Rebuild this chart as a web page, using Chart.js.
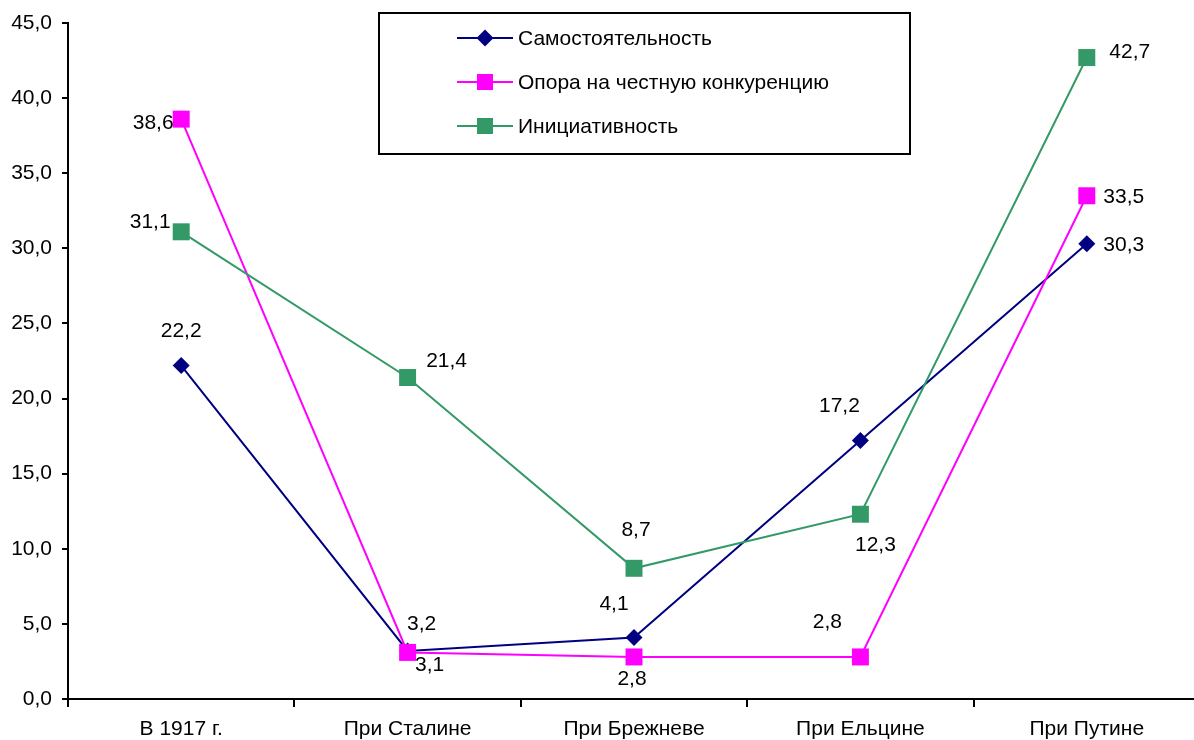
<!DOCTYPE html>
<html>
<head>
<meta charset="utf-8">
<script src="https://cdn.jsdelivr.net/npm/chart.js@4"></script>
<style>
  html, body { margin: 0; padding: 0; background: #fff; overflow: hidden; width: 1194px; height: 740px; }
  canvas { display: block; }
</style>
</head>
<body>
<canvas id="c" width="1212" height="740" style="width:1212px;height:740px"></canvas>
<script>
// данные с графика
const periods = ['В 1917 г.', 'При Сталине', 'При Брежневе', 'При Ельцине', 'При Путине'];
const samost = [22.2, 3.2, 4.1, 17.2, 30.3];
const konkur = [38.6, 3.1, 2.8, 2.8, 33.5];
const iniciat = [31.1, 21.4, 8.7, 12.3, 42.7];
const yTicks = [0, 5, 10, 15, 20, 25, 30, 35, 40, 45];

// смещения подписей (dx, dy) относительно точки
const offSamost = [[0, -34], [14, -27], [-20, -33], [-21, -34], [37, 1]];
const offKonkur = [[-28, 4], [22, 13], [-2, 22], [-33, -35], [37, 1]];
const offIniciat = [[-31, -10], [39, -16], [2, -38], [15, 31], [43, -5]];

const fmt = v => v.toFixed(1).replace('.', ',');
const FAMILY = '"Liberation Sans", Arial, sans-serif';
const FONT = '21px ' + FAMILY;

const series = [
  { label: 'Самостоятельность', data: samost, color: '#000080', style: 'rectRot', r: 8.5, off: offSamost, order: 3 },
  { label: 'Опора на честную конкуренцию', data: konkur, color: '#FF00FF', style: 'rect', r: 12, off: offKonkur, order: 2 },
  { label: 'Инициативность', data: iniciat, color: '#339966', style: 'rect', r: 12, off: offIniciat, order: 1 }
];

const valueLabels = {
  id: 'valueLabels',
  afterDatasetsDraw(chart) {
    const ctx = chart.ctx;
    ctx.save();
    ctx.font = FONT;
    ctx.fillStyle = '#000';
    ctx.textAlign = 'center';
    ctx.textBaseline = 'middle';
    series.forEach((s, i) => {
      const meta = chart.getDatasetMeta(i);
      meta.data.forEach((pt, j) => {
        const o = s.off[j];
        ctx.fillText(fmt(s.data[j]), pt.x + o[0], pt.y + o[1]);
      });
    });
    ctx.restore();
  }
};

const boxLegend = {
  id: 'boxLegend',
  afterDraw(chart) {
    const ctx = chart.ctx;
    ctx.save();
    ctx.strokeStyle = '#000';
    ctx.lineWidth = 2;
    ctx.strokeRect(379, 13, 531, 141);
    ctx.font = FONT;
    ctx.textBaseline = 'middle';
    ctx.textAlign = 'left';
    series.forEach((s, i) => {
      const y = 38 + i * 44;
      ctx.strokeStyle = s.color;
      ctx.lineWidth = 2;
      ctx.beginPath();
      ctx.moveTo(457, y);
      ctx.lineTo(513, y);
      ctx.stroke();
      ctx.fillStyle = s.color;
      if (s.style === 'rectRot') {
        ctx.beginPath();
        ctx.moveTo(485, y - 8.5); ctx.lineTo(493.5, y); ctx.lineTo(485, y + 8.5); ctx.lineTo(476.5, y);
        ctx.closePath(); ctx.fill();
      } else {
        ctx.fillRect(477, y - 8, 16, 16);
      }
      ctx.fillStyle = '#000';
      ctx.fillText(s.label, 518, y + 1);
    });
    ctx.restore();
  }
};

new Chart(document.getElementById('c'), {
  type: 'line',
  data: {
    labels: periods,
    datasets: series.map(s => ({
      label: s.label,
      data: s.data,
      borderColor: s.color,
      backgroundColor: s.color,
      borderWidth: 2,
      pointStyle: s.style,
      pointRadius: s.r,
      pointHoverRadius: s.r,
      pointBorderWidth: 0,
      tension: 0,
      order: s.order
    }))
  },
  options: {
    responsive: false,
    animation: false,
    events: [],
    layout: { padding: { top: 23, left: 0, right: 0, bottom: 0 } },
    plugins: { legend: { display: false }, tooltip: { enabled: false } },
    scales: {
      x: {
        offset: true,
        grid: { offset: true, drawOnChartArea: false, color: '#000', lineWidth: 2, tickLength: 8, tickColor: '#000' },
        border: { color: '#000', width: 2 },
        ticks: { color: '#000', font: { family: FAMILY, size: 21 }, padding: 10, maxRotation: 0, autoSkip: false },
        afterFit(scale) { scale.height = 41; }
      },
      y: {
        min: 0,
        max: 45,
        afterBuildTicks(scale) { scale.ticks = yTicks.map(v => ({ value: v })); },
        grid: { drawOnChartArea: false, color: '#000', lineWidth: 2, tickLength: 6, tickColor: '#000' },
        border: { color: '#000', width: 2 },
        ticks: { color: '#000', font: { family: FAMILY, size: 21 }, padding: 10, callback: v => fmt(v) },
        afterFit(scale) { scale.width = 68; }
      }
    }
  },
  plugins: [valueLabels, boxLegend]
});
</script>
</body>
</html>
